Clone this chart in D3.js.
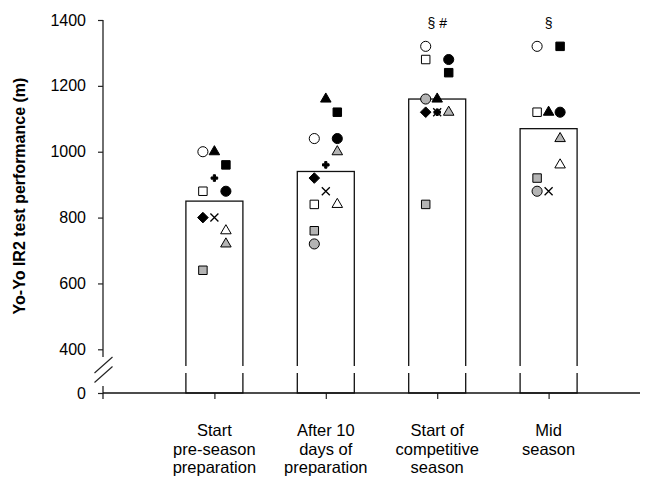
<!DOCTYPE html>
<html>
<head>
<meta charset="utf-8">
<script src="https://cdn.jsdelivr.net/npm/d3@7"></script>
<style>
  body { margin: 0; background: #fff; }
  svg { display: block; font-family: "Liberation Sans", Arial, sans-serif; }
</style>
</head>
<body>
<div id="chart"></div>
<script>
//=====================================================
// data
var categories = ["pre", "after10", "startComp", "mid"];
var categoryLines = [
  ["Start", "pre-season", "preparation"],
  ["After 10", "days of", "preparation"],
  ["Start of", "competitive", "season"],
  ["Mid", "season"]
];
var means = [850, 940, 1160, 1070];
var annotations = ["", "", "§ #", "§"];
var yTicks = [0, 400, 600, 800, 1000, 1200, 1400];

// one entry per player (marker style), values per test (null = not shown)
var players = ["openCircle", "blackCircle", "grayCircle", "openSquare", "blackSquare", "graySquare",
               "openTriangle", "blackTriangle", "grayTriangle", "diamond", "cross", "plus"];
var playerSlot = ["left", "right", "left", "left", "right", "left",
                  "right", "middle", "right", "left", "middle", "middle"];
var startPreSeason   = [1000, 880, null, 880, 960, 640, 760, 1000, 720, 800, 800, 920];
var after10Days      = [1040, 1040, 720, 840, 1120, 760, 840, 1160, 1000, 920, 880, 960];
var startCompetitive = [1320, 1280, 1160, 1280, 1240, 840, null, 1160, 1120, 1120, 1120, 1120];
var midSeason        = [1320, 1120, 880, 1120, 1320, 920, 960, 1120, 1040, null, 880, null];
var testValues = [startPreSeason, after10Days, startCompetitive, midSeason];

//=====================================================
var width = 650, height = 477;
var x0 = 103, yBase = 393;
var gray = "#b4b4b4";

var svg = d3.select("#chart").append("svg")
  .attr("width", width)
  .attr("height", height);

// broken y scale: 0 sits below the break
var y = d3.scaleLinear()
  .domain([0, 400, 1400])
  .range([yBase, 349.3, 20]);

var x = d3.scalePoint()
  .domain(categories)
  .range([x0, 660])
  .padding(1);

var slot = d3.scalePoint()
  .domain(["left", "middle", "right"])
  .range([-11.5, 11.5]);

var barW = 57;
var gapTop = 366, gapBottom = 373;

// bars
svg.append("g").selectAll("rect")
  .data(means)
  .enter().append("rect")
  .attr("x", function(d, i) { return x(categories[i]) - barW / 2; })
  .attr("y", function(d) { return y(d); })
  .attr("width", barW)
  .attr("height", function(d) { return y(0) - y(d); })
  .attr("fill", "#fff")
  .attr("stroke", "#111")
  .attr("stroke-width", 1.3);

// break gap through the bars
svg.append("g").selectAll("rect")
  .data(means)
  .enter().append("rect")
  .attr("x", function(d, i) { return x(categories[i]) - barW / 2 - 2; })
  .attr("y", gapTop)
  .attr("width", barW + 4)
  .attr("height", gapBottom - gapTop)
  .attr("fill", "#fff");

// y axis
var yAxis = svg.append("g")
  .attr("transform", "translate(" + x0 + ",0)")
  .call(d3.axisLeft(y).tickValues(yTicks).tickFormat(d3.format("d")).tickSize(5).tickPadding(12));
yAxis.select(".domain").remove();
yAxis.selectAll("line").attr("stroke", "#222").attr("stroke-width", 1.2);
yAxis.selectAll("text")
  .attr("fill", "#000")
  .style("font-size", "16px")
  .style("font-family", "'Liberation Sans', Arial, sans-serif");

svg.append("line")
  .attr("x1", x0).attr("x2", x0)
  .attr("y1", y(1400)).attr("y2", 357)
  .attr("stroke", "#222").attr("stroke-width", 1.3);
svg.append("line")
  .attr("x1", x0).attr("x2", x0)
  .attr("y1", 386).attr("y2", yBase + 6)
  .attr("stroke", "#222").attr("stroke-width", 1.3);

// axis break marks
[0, 9.5].forEach(function(off) {
  svg.append("line")
    .attr("x1", 94.5).attr("y1", 373 + off)
    .attr("x2", 112.5).attr("y2", 357 + off)
    .attr("stroke", "#222").attr("stroke-width", 1.1);
});

// x axis
var xAxis = svg.append("g")
  .attr("transform", "translate(0," + yBase + ")")
  .call(d3.axisBottom(x).tickSize(6).tickFormat(""));
xAxis.select(".domain").remove();
xAxis.selectAll("line").attr("stroke", "#222").attr("stroke-width", 1.2);

svg.append("line")
  .attr("x1", x0).attr("x2", 640)
  .attr("y1", yBase).attr("y2", yBase)
  .attr("stroke", "#111").attr("stroke-width", 1.3);

// x labels, multi-line
var labels = svg.append("g").selectAll("text")
  .data(categoryLines)
  .enter().append("text")
  .attr("text-anchor", "middle")
  .style("font-size", "16.5px")
  .attr("fill", "#000");
labels.selectAll("tspan")
  .data(function(d, i) { return d.map(function(t) { return { t: t, i: i }; }); })
  .enter().append("tspan")
  .attr("x", function(d) { return x(categories[d.i]); })
  .attr("y", function(d, j) { return 436 + j * 18.5; })
  .text(function(d) { return d.t; });

// y title
svg.append("text")
  .attr("transform", "translate(25,196) rotate(-90)")
  .attr("text-anchor", "middle")
  .style("font-size", "16px")
  .style("font-weight", "bold")
  .text("Yo-Yo IR2 test performance (m)");

// significance marks
svg.append("g").selectAll("text")
  .data(annotations)
  .enter().append("text")
  .attr("x", function(d, i) { return x(categories[i]); })
  .attr("y", 28)
  .attr("text-anchor", "middle")
  .style("font-size", "14px")
  .text(function(d) { return d; });

//=====================================================
// markers
function markerPath(name) {
  if (name.indexOf("Circle") >= 0) return d3.symbol(d3.symbolCircle, 80)();
  if (name.indexOf("Square") >= 0) return d3.symbol(d3.symbolSquare, 72)();
  if (name.indexOf("Triangle") >= 0) return d3.symbol(d3.symbolTriangle, 48)();
  if (name === "diamond") return "M0,-5.3L5.3,0L0,5.3L-5.3,0Z";
  if (name === "plus") return d3.symbol(d3.symbolCross, 24)();
  if (name === "cross") return "M-4,-4L4,4M-4,4L4,-4";
  return "";
}
function markerFill(name) {
  if (name === "cross") return "none";
  if (name.indexOf("open") === 0) return "#fff";
  if (name.indexOf("gray") === 0) return gray;
  return "#000";
}

var points = [];
testValues.forEach(function(vals, i) {
  vals.forEach(function(v, p) {
    if (v != null) points.push({ cat: categories[i], value: v, player: players[p], slot: playerSlot[p] });
  });
});

svg.append("g").selectAll("path")
  .data(points)
  .enter().append("path")
  .attr("transform", function(d) {
    return "translate(" + (x(d.cat) + slot(d.slot)) + "," + y(d.value) + ")";
  })
  .attr("d", function(d) { return markerPath(d.player); })
  .attr("fill", function(d) { return markerFill(d.player); })
  .attr("stroke", "#000")
  .attr("stroke-width", function(d) { return d.player === "cross" ? 1.3 : 1; });
</script>
</body>
</html>
